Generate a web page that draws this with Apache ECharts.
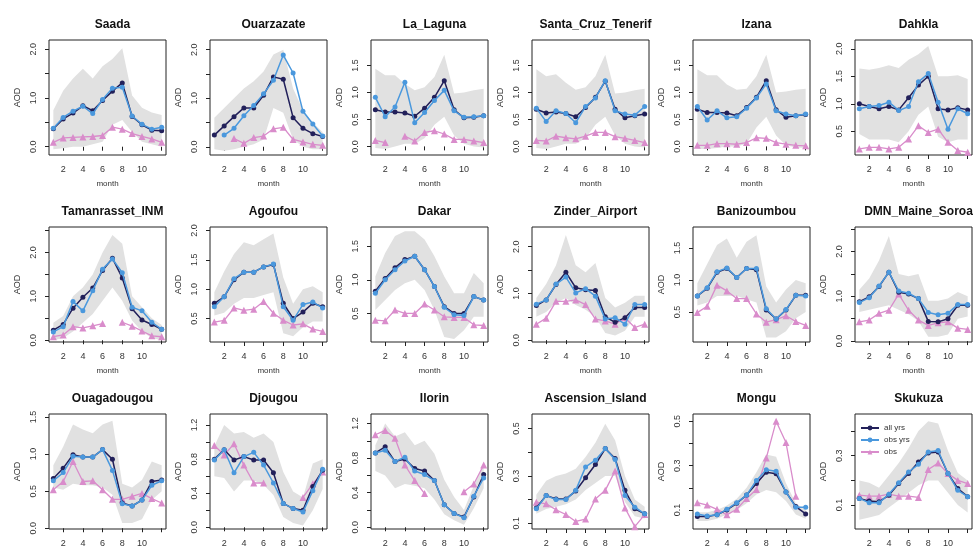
<!DOCTYPE html>
<html>
<head>
<meta charset="utf-8">
<script src="https://cdn.jsdelivr.net/npm/echarts@6/dist/echarts.min.js"></script>
<style>
  html, body { margin: 0; padding: 0; background: #fff; }
  #chart { width: 975px; height: 551px; }
</style>
</head>
<body>
<div id="chart"></div>
<script>
// stations, one panel each (6 per row)
var stations = [
  'Saada', 'Ouarzazate', 'La_Laguna', 'Santa_Cruz_Tenerif', 'Izana', 'Dahkla',
  'Tamanrasset_INM', 'Agoufou', 'Dakar', 'Zinder_Airport', 'Banizoumbou', 'DMN_Maine_Soroa',
  'Ouagadougou', 'Djougou', 'Ilorin', 'Ascension_Island', 'Mongu', 'Skukuza'
];
var months = [1, 2, 3, 4, 5, 6, 7, 8, 9, 10, 11, 12];
var monthTicks = [2, 4, 6, 8, 10, 12];
var monthLabels = [2, 4, 6, 8, 10];

// model, all years
var allYrs = [
  [0.37, 0.57, 0.69, 0.84, 0.74, 0.95, 1.14, 1.31, 0.62, 0.45, 0.34, 0.33],
  [0.24, 0.43, 0.62, 0.80, 0.80, 1.06, 1.44, 1.39, 0.60, 0.38, 0.27, 0.21],
  [0.68, 0.64, 0.64, 0.62, 0.56, 0.71, 0.91, 1.22, 0.68, 0.53, 0.54, 0.57],
  [0.69, 0.62, 0.64, 0.61, 0.55, 0.72, 0.91, 1.21, 0.69, 0.53, 0.57, 0.60],
  [0.69, 0.63, 0.63, 0.62, 0.57, 0.72, 0.91, 1.22, 0.68, 0.54, 0.57, 0.59],
  [1.00, 0.95, 0.91, 0.95, 0.89, 1.11, 1.34, 1.50, 0.91, 0.89, 0.93, 0.89],
  [0.23, 0.36, 0.73, 0.98, 1.19, 1.59, 1.87, 1.42, 0.72, 0.46, 0.36, 0.25],
  [0.76, 0.87, 1.16, 1.29, 1.29, 1.38, 1.42, 0.76, 0.50, 0.61, 0.76, 0.70],
  [0.83, 1.02, 1.18, 1.30, 1.35, 1.15, 0.90, 0.60, 0.50, 0.50, 0.75, 0.70],
  [0.74, 0.86, 1.19, 1.45, 1.12, 1.08, 1.06, 0.50, 0.38, 0.48, 0.70, 0.70],
  [0.75, 0.87, 1.12, 1.18, 1.04, 1.18, 1.16, 0.53, 0.39, 0.53, 0.76, 0.76],
  [0.88, 0.99, 1.22, 1.54, 1.09, 1.05, 0.95, 0.44, 0.43, 0.50, 0.80, 0.80],
  [0.67, 0.81, 0.99, 0.96, 0.96, 1.06, 0.93, 0.34, 0.30, 0.38, 0.63, 0.65],
  [0.80, 0.91, 0.79, 0.83, 0.79, 0.79, 0.64, 0.28, 0.22, 0.20, 0.48, 0.67],
  [0.86, 0.93, 0.76, 0.79, 0.68, 0.65, 0.54, 0.26, 0.16, 0.12, 0.35, 0.61],
  [0.165, 0.217, 0.203, 0.203, 0.236, 0.292, 0.348, 0.415, 0.373, 0.239, 0.161, 0.140],
  [0.070, 0.070, 0.078, 0.100, 0.130, 0.167, 0.219, 0.270, 0.263, 0.181, 0.115, 0.082],
  [0.127, 0.116, 0.113, 0.140, 0.187, 0.228, 0.275, 0.311, 0.315, 0.228, 0.167, 0.134]
];

// model, observed years only
var obsYrs = [
  [0.38, 0.60, 0.73, 0.83, 0.68, 0.97, 1.20, 1.22, 0.63, 0.46, 0.36, 0.40],
  [null, 0.24, 0.38, 0.64, 0.85, 1.09, 1.37, 1.89, 1.52, 0.73, 0.47, 0.22],
  [0.91, 0.55, 0.73, 1.19, 0.44, 0.63, 0.85, 1.04, 0.66, 0.54, 0.55, 0.57],
  [0.71, 0.46, 0.66, 0.61, 0.44, 0.74, 0.90, 1.22, 0.66, 0.60, 0.58, 0.74],
  [0.74, 0.49, 0.66, 0.53, 0.55, 0.71, 0.90, 1.16, 0.66, 0.60, 0.57, 0.60],
  [0.91, 0.95, 0.97, 1.03, 0.88, 0.95, 1.40, 1.55, 1.03, 0.54, 0.91, 0.82],
  [0.19, 0.31, 0.88, 0.67, 1.13, 1.62, 1.85, 1.54, 0.75, 0.67, 0.41, 0.25],
  [0.70, 0.87, 1.18, 1.29, 1.29, 1.38, 1.43, 0.70, 0.47, 0.74, 0.78, 0.68],
  [0.80, 1.00, 1.15, 1.28, 1.35, 1.15, 0.90, 0.59, 0.48, 0.47, 0.75, 0.70],
  [0.77, 0.86, 1.20, 1.35, 1.01, 1.10, 0.94, 0.45, 0.48, 0.34, 0.76, 0.76],
  [0.75, 0.88, 1.13, 1.19, 1.04, 1.18, 1.18, 0.55, 0.39, 0.54, 0.76, 0.75],
  [0.86, 0.97, 1.23, 1.54, 1.12, 1.07, 0.95, 0.64, 0.59, 0.62, 0.82, 0.82],
  [0.64, 0.75, 0.97, 0.96, 0.96, 1.06, 0.78, 0.33, 0.30, 0.38, 0.58, 0.64],
  [0.79, 0.91, 0.64, 0.83, 0.88, 0.73, 0.52, 0.28, 0.22, 0.18, 0.43, 0.68],
  [0.86, 0.89, 0.76, 0.81, 0.65, 0.61, 0.54, 0.26, 0.16, 0.11, 0.36, 0.57],
  [0.161, 0.217, 0.200, 0.200, 0.239, 0.338, 0.366, 0.415, 0.369, 0.217, 0.168, 0.140],
  [0.082, 0.073, 0.078, 0.103, 0.133, 0.167, 0.233, 0.281, 0.275, 0.181, 0.112, 0.112],
  [0.127, 0.109, 0.109, 0.144, 0.190, 0.234, 0.265, 0.315, 0.321, 0.228, 0.160, 0.134]
];

// observations (null = no data that month)
var obs = [
  [0.09, 0.18, 0.19, 0.20, 0.21, 0.23, 0.40, 0.36, 0.27, 0.21, 0.16, 0.09],
  [null, null, 0.17, 0.07, 0.19, 0.22, 0.37, 0.40, 0.15, 0.10, 0.05, 0.03],
  [0.11, 0.07, null, 0.19, 0.10, 0.26, 0.29, 0.23, 0.13, 0.13, 0.10, 0.07],
  [0.11, 0.10, 0.19, 0.16, 0.14, 0.19, 0.26, 0.26, 0.18, 0.15, 0.11, 0.07],
  [0.02, 0.02, 0.05, 0.05, 0.04, 0.07, 0.16, 0.15, 0.07, 0.04, 0.02, 0.01],
  [0.18, 0.21, 0.21, 0.18, 0.21, 0.36, 0.60, 0.48, 0.54, 0.30, 0.15, 0.12],
  [0.08, 0.12, 0.31, 0.28, 0.33, 0.38, null, 0.41, 0.32, 0.21, 0.10, 0.08],
  [0.44, 0.47, 0.68, 0.64, 0.66, 0.79, 0.59, 0.47, 0.39, 0.41, 0.32, 0.28],
  [0.40, 0.39, 0.55, 0.50, 0.50, 0.64, 0.55, 0.45, 0.44, 0.44, 0.33, 0.32],
  [0.34, 0.47, 0.83, 0.83, 0.86, 0.76, 0.45, 0.41, 0.34, 0.48, 0.27, 0.34],
  [0.49, 0.59, 0.92, 0.83, 0.71, 0.71, 0.47, 0.34, 0.38, 0.44, 0.35, 0.29],
  [0.43, 0.47, 0.62, 0.69, 1.05, 0.69, 0.47, 0.35, 0.41, 0.43, 0.29, 0.26],
  [0.52, 0.63, 0.90, 0.63, 0.64, 0.52, 0.39, 0.39, 0.43, 0.47, 0.40, 0.34],
  [0.96, 0.85, 0.98, 0.73, 0.52, 0.52, null, null, null, 0.35, 0.51, 0.65],
  [1.07, 1.12, 1.03, 0.72, 0.54, 0.39, null, null, null, 0.41, 0.50, 0.72],
  [0.189, 0.182, 0.157, 0.137, 0.108, 0.118, 0.203, 0.239, 0.321, 0.165, 0.086, 0.137],
  [0.133, 0.122, 0.103, 0.078, 0.103, 0.152, 0.192, 0.334, 0.500, 0.404, 0.162, null],
  [0.140, 0.136, 0.136, 0.144, 0.136, 0.136, 0.131, 0.244, 0.270, 0.228, 0.200, 0.187]
];

// grey spread band, upper and lower edge
var bandHi = [
  [0.75, 1.15, 1.40, 1.60, 1.40, 1.65, 1.80, 2.02, 1.05, 0.80, 0.70, 0.65],
  [0.60, 0.80, 1.00, 1.20, 1.35, 1.55, 1.90, 2.00, 1.20, 0.75, 0.50, 0.30],
  [1.44, 1.32, 1.32, 1.16, 1.04, 1.10, 1.29, 1.70, 0.98, 1.00, 1.04, 1.07],
  [1.43, 1.30, 1.34, 1.18, 1.05, 1.10, 1.30, 1.70, 0.98, 1.00, 1.04, 1.07],
  [1.43, 1.32, 1.32, 1.15, 1.05, 1.07, 1.30, 1.70, 1.00, 1.02, 1.05, 1.07],
  [1.64, 1.62, 1.65, 1.70, 1.65, 1.80, 1.90, 2.05, 1.50, 1.50, 1.52, 1.45],
  [0.40, 0.55, 1.00, 1.20, 1.50, 2.00, 2.40, 2.20, 1.00, 0.75, 0.50, 0.35],
  [0.95, 1.30, 1.60, 1.80, 1.75, 1.85, 1.95, 1.20, 0.75, 1.00, 1.05, 0.95],
  [1.05, 1.40, 1.65, 1.72, 1.72, 1.60, 1.35, 1.05, 0.80, 0.80, 1.10, 0.95],
  [0.90, 1.20, 1.60, 2.25, 1.60, 1.45, 1.65, 0.90, 0.70, 0.80, 0.95, 0.95],
  [0.95, 1.25, 1.55, 1.65, 1.35, 1.60, 1.70, 0.90, 0.65, 0.85, 1.00, 0.95],
  [1.15, 1.40, 1.80, 2.35, 1.50, 1.45, 1.50, 0.90, 0.90, 0.95, 1.10, 1.00],
  [0.85, 1.10, 1.40, 1.33, 1.28, 1.40, 1.45, 0.60, 0.55, 0.65, 0.90, 0.85],
  [0.95, 1.20, 1.10, 1.12, 1.05, 1.10, 1.00, 0.65, 0.42, 0.35, 0.75, 0.80],
  [0.95, 1.20, 1.05, 1.10, 0.95, 1.00, 0.85, 0.55, 0.35, 0.20, 0.48, 0.72],
  [0.22, 0.28, 0.30, 0.31, 0.33, 0.38, 0.44, 0.52, 0.45, 0.30, 0.20, 0.17],
  [0.09, 0.09, 0.10, 0.12, 0.15, 0.20, 0.27, 0.35, 0.34, 0.22, 0.13, 0.10],
  [0.20, 0.19, 0.17, 0.22, 0.27, 0.33, 0.40, 0.44, 0.43, 0.32, 0.23, 0.20]
];
var bandLo = [
  [-0.05, -0.03, 0.00, 0.00, 0.05, 0.10, 0.45, 0.55, 0.30, 0.10, 0.05, 0.00],
  [-0.05, -0.08, -0.05, 0.00, 0.05, 0.15, 0.80, 0.70, 0.15, 0.00, -0.05, -0.05],
  [-0.03, -0.05, 0.00, 0.05, 0.05, 0.15, 0.40, 0.55, 0.20, 0.05, 0.00, -0.02],
  [-0.03, -0.05, 0.00, 0.05, 0.05, 0.15, 0.40, 0.55, 0.20, 0.05, 0.00, -0.02],
  [-0.05, -0.05, -0.03, 0.00, 0.00, 0.05, 0.35, 0.55, 0.20, 0.02, -0.02, -0.03],
  [0.45, 0.35, 0.35, 0.35, 0.30, 0.50, 0.80, 0.95, 0.40, 0.30, 0.35, 0.35],
  [0.00, 0.05, 0.20, 0.40, 0.60, 0.90, 1.20, 0.90, 0.45, 0.20, 0.05, 0.00],
  [0.55, 0.60, 0.75, 0.85, 0.85, 0.90, 0.95, 0.25, 0.20, 0.35, 0.45, 0.45],
  [0.55, 0.70, 0.85, 0.95, 1.00, 0.85, 0.55, 0.15, 0.12, 0.25, 0.45, 0.45],
  [0.50, 0.60, 0.80, 0.90, 0.75, 0.65, 0.50, 0.15, 0.10, 0.20, 0.50, 0.50],
  [0.60, 0.65, 0.75, 0.75, 0.75, 0.70, 0.65, 0.10, 0.10, 0.20, 0.40, 0.50],
  [0.65, 0.70, 0.75, 0.80, 0.70, 0.60, 0.45, 0.10, 0.10, 0.15, 0.50, 0.55],
  [0.55, 0.52, 0.60, 0.58, 0.58, 0.55, 0.45, 0.07, 0.07, 0.12, 0.38, 0.50],
  [0.60, 0.58, 0.42, 0.55, 0.55, 0.50, 0.38, 0.12, 0.05, 0.02, 0.20, 0.45],
  [0.65, 0.60, 0.45, 0.50, 0.48, 0.45, 0.32, 0.15, 0.08, 0.03, 0.22, 0.45],
  [0.14, 0.16, 0.17, 0.18, 0.20, 0.24, 0.27, 0.30, 0.30, 0.19, 0.13, 0.12],
  [0.05, 0.05, 0.06, 0.08, 0.10, 0.13, 0.17, 0.19, 0.18, 0.14, 0.08, 0.06],
  [0.04, 0.05, 0.06, 0.09, 0.12, 0.15, 0.18, 0.20, 0.20, 0.15, 0.10, 0.07]
];

// y axis of every panel: range, tick marks, labelled ticks
var yMin = [-0.17, -0.17, -0.16, -0.16, -0.16, 0.07, -0.04, 0.10, 0.075, -0.04, 0.03, -0.02, -0.01, -0.02, -0.02, 0.076, 0.014, 0.003];
var yMax = [2.19, 2.20, 1.975, 1.975, 1.975, 2.16, 2.58, 2.06, 1.785, 2.42, 1.83, 2.55, 1.54, 1.33, 1.31, 0.561, 0.533, 0.469];
var yTicks = [
  [0, 0.5, 1, 1.5, 2], [0, 0.5, 1, 1.5, 2], [0, 0.5, 1, 1.5], [0, 0.5, 1, 1.5], [0, 0.5, 1, 1.5], [0.5, 1, 1.5, 2],
  [0, 0.5, 1, 1.5, 2, 2.5], [0.5, 1, 1.5, 2], [0.5, 1, 1.5], [0, 0.5, 1, 1.5, 2], [0.5, 1, 1.5], [0, 0.5, 1, 1.5, 2, 2.5],
  [0, 0.5, 1, 1.5], [0, 0.2, 0.4, 0.6, 0.8, 1, 1.2], [0, 0.2, 0.4, 0.6, 0.8, 1, 1.2], [0.1, 0.2, 0.3, 0.4, 0.5], [0.1, 0.2, 0.3, 0.4, 0.5], [0.1, 0.2, 0.3, 0.4]
];
var yLabels = [
  [0, 1, 2], [0, 1, 2], [0, 0.5, 1, 1.5], [0, 0.5, 1, 1.5], [0, 0.5, 1, 1.5], [0.5, 1, 1.5, 2],
  [0, 1, 2], [0.5, 1, 1.5, 2], [0.5, 1, 1.5], [0, 1, 2], [0.5, 1, 1.5], [0, 1, 2],
  [0, 0.5, 1, 1.5], [0, 0.4, 0.8, 1.2], [0, 0.4, 0.8, 1.2], [0.1, 0.3, 0.5], [0.1, 0.3, 0.5], [0.1, 0.3]
];

var colLeft = [49, 210, 371, 532, 693, 855],
rowTop = [40, 227, 414],
boxW = 117,
boxH = 115,
font = 'Liberation Sans, Arial, sans-serif';

function toPairs(arr) {
  var out = [];
  for (var k = 0; k < months.length; k++) {
    out.push([months[k], arr[k] == null ? '-' : arr[k]]);
  }
  return out;
}

function toBand(hi, lo) {
  var out = [];
  for (var k = 0; k < months.length; k++) {
    out.push([months[k], lo[k], hi[k]]);
  }
  return out;
}

// whole band as one polygon, drawn when the first item is rendered
function renderBand(params, api) {
  if (params.dataIndex !== 0) return null;
  var upper = [], lower = [];
  for (var k = 0; k < months.length; k++) {
    upper.push(api.coord([months[k], api.value(2, k)]));
    lower.unshift(api.coord([months[k], api.value(1, k)]));
  }
  return {
    type: 'polygon',
    shape: { points: upper.concat(lower) },
    style: { fill: '#e1e1e1', stroke: null }
  };
}

function buildOption() {
  var option = {
    animation: false,
    backgroundColor: '#fff',
    title: [],
    grid: [],
    xAxis: [],
    yAxis: [],
    series: [],
    legend: {
      data: ['all yrs', 'obs yrs', 'obs'],
      orient: 'vertical',
      left: 860,
      top: 424,
      padding: 0,
      itemWidth: 18,
      itemHeight: 6,
      itemGap: 4,
      textStyle: { fontSize: 8, color: '#333', fontFamily: font }
    }
  };

  for (var i = 0; i < stations.length; i++) {
    var boxLeft = colLeft[i % 6],
    boxTop = rowTop[Math.floor(i / 6)];

    option.title.push({
      text: stations[i],
      left: boxLeft + boxW / 2,
      top: boxTop - 26,
      textAlign: 'center',
      textStyle: { fontSize: 12, fontWeight: 'bold', color: '#111', fontFamily: font }
    });

    // fixed boxes; labels may run past the page edge like in the original
    option.grid.push({
      left: boxLeft, top: boxTop, width: boxW, height: boxH,
      outerBoundsMode: 'none',
      show: true, borderColor: '#222', borderWidth: 1, backgroundColor: 'transparent'
    });

    option.xAxis.push({
      type: 'value', gridIndex: i, min: 0.56, max: 12.44,
      name: 'month', nameLocation: 'middle', nameGap: 25,
      nameTextStyle: { fontSize: 8, color: '#333', fontFamily: font },
      axisLine: { show: false },
      splitLine: { show: false },
      axisTick: { show: true, length: 4, customValues: monthTicks, lineStyle: { color: '#222' } },
      axisLabel: { fontSize: 9, color: '#333', fontFamily: font, margin: 10, customValues: monthLabels }
    });

    option.yAxis.push({
      type: 'value', gridIndex: i, min: yMin[i], max: yMax[i],
      name: 'AOD', nameLocation: 'middle', nameGap: 27,
      nameTextStyle: { fontSize: 9, color: '#333', fontFamily: font },
      axisLine: { show: false },
      splitLine: { show: false },
      axisTick: { show: true, length: 4, customValues: yTicks[i], lineStyle: { color: '#222' } },
      axisLabel: {
        fontSize: 9, color: '#333', fontFamily: font, margin: 11, rotate: 90, customValues: yLabels[i],
        formatter: function(v) { return Number(v).toFixed(1); }
      }
    });

    option.series.push({
      type: 'custom', xAxisIndex: i, yAxisIndex: i, silent: true, clip: true,
      data: toBand(bandHi[i], bandLo[i]), renderItem: renderBand, z: 1
    });
    option.series.push({
      name: 'obs', type: 'line', xAxisIndex: i, yAxisIndex: i,
      data: toPairs(obs[i]), symbol: 'triangle', symbolSize: 7,
      itemStyle: { color: '#d98ccb' }, lineStyle: { width: 1.3, color: '#d98ccb' }, z: 3
    });
    option.series.push({
      name: 'all yrs', type: 'line', xAxisIndex: i, yAxisIndex: i,
      data: toPairs(allYrs[i]), symbol: 'circle', symbolSize: 5,
      itemStyle: { color: '#22205a' }, lineStyle: { width: 1.5, color: '#22205a' }, z: 4
    });
    option.series.push({
      name: 'obs yrs', type: 'line', xAxisIndex: i, yAxisIndex: i,
      data: toPairs(obsYrs[i]), symbol: 'circle', symbolSize: 5,
      itemStyle: { color: '#4a98dd' }, lineStyle: { width: 1.5, color: '#4a98dd' }, z: 5
    });
  }
  return option;
}

var chart = echarts.init(document.getElementById('chart'));
chart.setOption(buildOption());
</script>
</body>
</html>
